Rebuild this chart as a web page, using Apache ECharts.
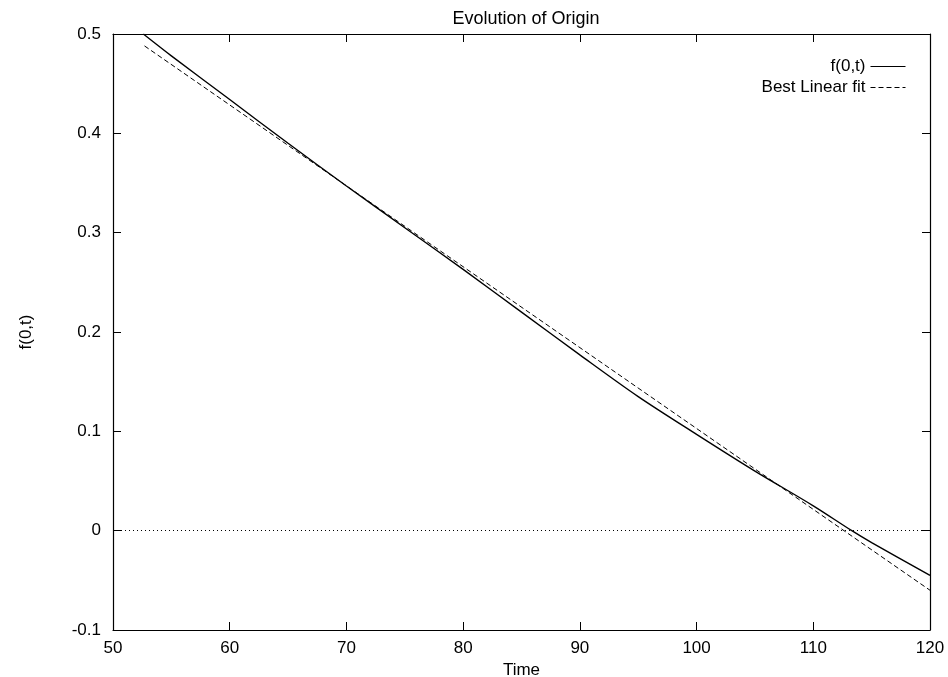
<!DOCTYPE html>
<html>
<head>
<meta charset="utf-8">
<script src="https://cdn.jsdelivr.net/npm/echarts@6/dist/echarts.min.js"></script>
<style>
  html, body { margin: 0; padding: 0; background: #fff; }
  #main { width: 948px; height: 677px; }
</style>
</head>
<body>
<div id="main"></div>
<script>
// f(0,t) values
var timeValues = [52.6, 55, 60, 65, 70, 75, 80, 85, 90, 95, 100, 105, 110, 113.3, 115, 120];
var originValues = [0.5, 0.478, 0.434, 0.390, 0.347, 0.305, 0.263, 0.220, 0.177, 0.135, 0.097, 0.060, 0.025, 0, -0.012, -0.045];
// best linear fit end points
var fitTimes = [52.7, 120];
var fitValues = [0.488, -0.06];

function pairs(xs, ys) {
  return xs.map(function (x, i) { return [x, ys[i]]; });
}

var myChart = echarts.init(document.getElementById("main"));
var font = "Liberation Sans, Arial, sans-serif";
var fs = 17;

option = {
  animation: false,
  backgroundColor: "#fff",
  title: {
    text: "Evolution of Origin",
    left: 521,
    top: 5,
    textAlign: "center",
    textStyle: { color: "#000", fontSize: 18, fontWeight: "normal", fontFamily: font },
  },
  legend: {
    right: 37,
    top: 53,
    orient: "vertical",
    align: "right",
    itemWidth: 35,
    itemHeight: 12,
    itemGap: 4,
    itemStyle: { opacity: 0 },
    lineStyle: { width: 1 },
    textStyle: { color: "#000", fontSize: fs, fontFamily: font },
    data: ["f(0,t)", "Best Linear fit"],
  },
  grid: { left: 113, right: 18, top: 34, bottom: 47, outerBoundsMode: "none", containLabel: false },
  xAxis: [
    {
      type: "value",
      min: 50,
      max: 120,
      interval: 10,
      name: "Time",
      nameLocation: "middle",
      nameGap: 29,
      nameTextStyle: { color: "#000", fontSize: fs, fontFamily: font },
      axisLine: { onZero: false, lineStyle: { color: "#000", width: 1.2 } },
      axisTick: { inside: true, length: 8, lineStyle: { color: "#000" } },
      axisLabel: { color: "#000", fontSize: fs, fontFamily: font, margin: 10 },
      splitLine: { show: false },
    },
    {
      type: "value",
      position: "top",
      min: 50,
      max: 120,
      interval: 10,
      axisLine: { onZero: false, lineStyle: { color: "#000", width: 1.2 } },
      axisTick: { inside: true, length: 8, lineStyle: { color: "#000" } },
      axisLabel: { show: false },
      splitLine: { show: false },
    },
  ],
  yAxis: [
    {
      type: "value",
      min: -0.1,
      max: 0.5,
      interval: 0.1,
      name: "f(0,t)",
      nameLocation: "middle",
      nameGap: 78,
      nameRotate: 90,
      nameTextStyle: { color: "#000", fontSize: fs, fontFamily: font },
      axisLine: { onZero: false, lineStyle: { color: "#000", width: 1.2 } },
      axisTick: { inside: true, length: 8, lineStyle: { color: "#000" } },
      axisLabel: { color: "#000", fontSize: fs, fontFamily: font, margin: 12 },
      splitLine: { show: false },
    },
    {
      type: "value",
      position: "right",
      min: -0.1,
      max: 0.5,
      interval: 0.1,
      axisLine: { onZero: false, lineStyle: { color: "#000", width: 1.2 } },
      axisTick: { inside: true, length: 8, lineStyle: { color: "#000" } },
      axisLabel: { show: false },
      splitLine: { show: false },
    },
  ],
  series: [
    {
      name: "f(0,t)",
      type: "line",
      symbol: "none",
      smooth: 0.3,
      data: pairs(timeValues, originValues),
      lineStyle: { color: "#000", width: 1.4 },
      itemStyle: { color: "#000" },
      markLine: {
        silent: true,
        symbol: "none",
        label: { show: false },
        lineStyle: { color: "#000", type: [1, 3], width: 1 },
        data: [{ yAxis: 0 }],
      },
    },
    {
      name: "Best Linear fit",
      type: "line",
      symbol: "none",
      data: pairs(fitTimes, fitValues),
      lineStyle: { color: "#000", width: 1, type: [5, 3] },
      itemStyle: { color: "#000" },
    },
  ],
};

myChart.setOption(option);
</script>
</body>
</html>
